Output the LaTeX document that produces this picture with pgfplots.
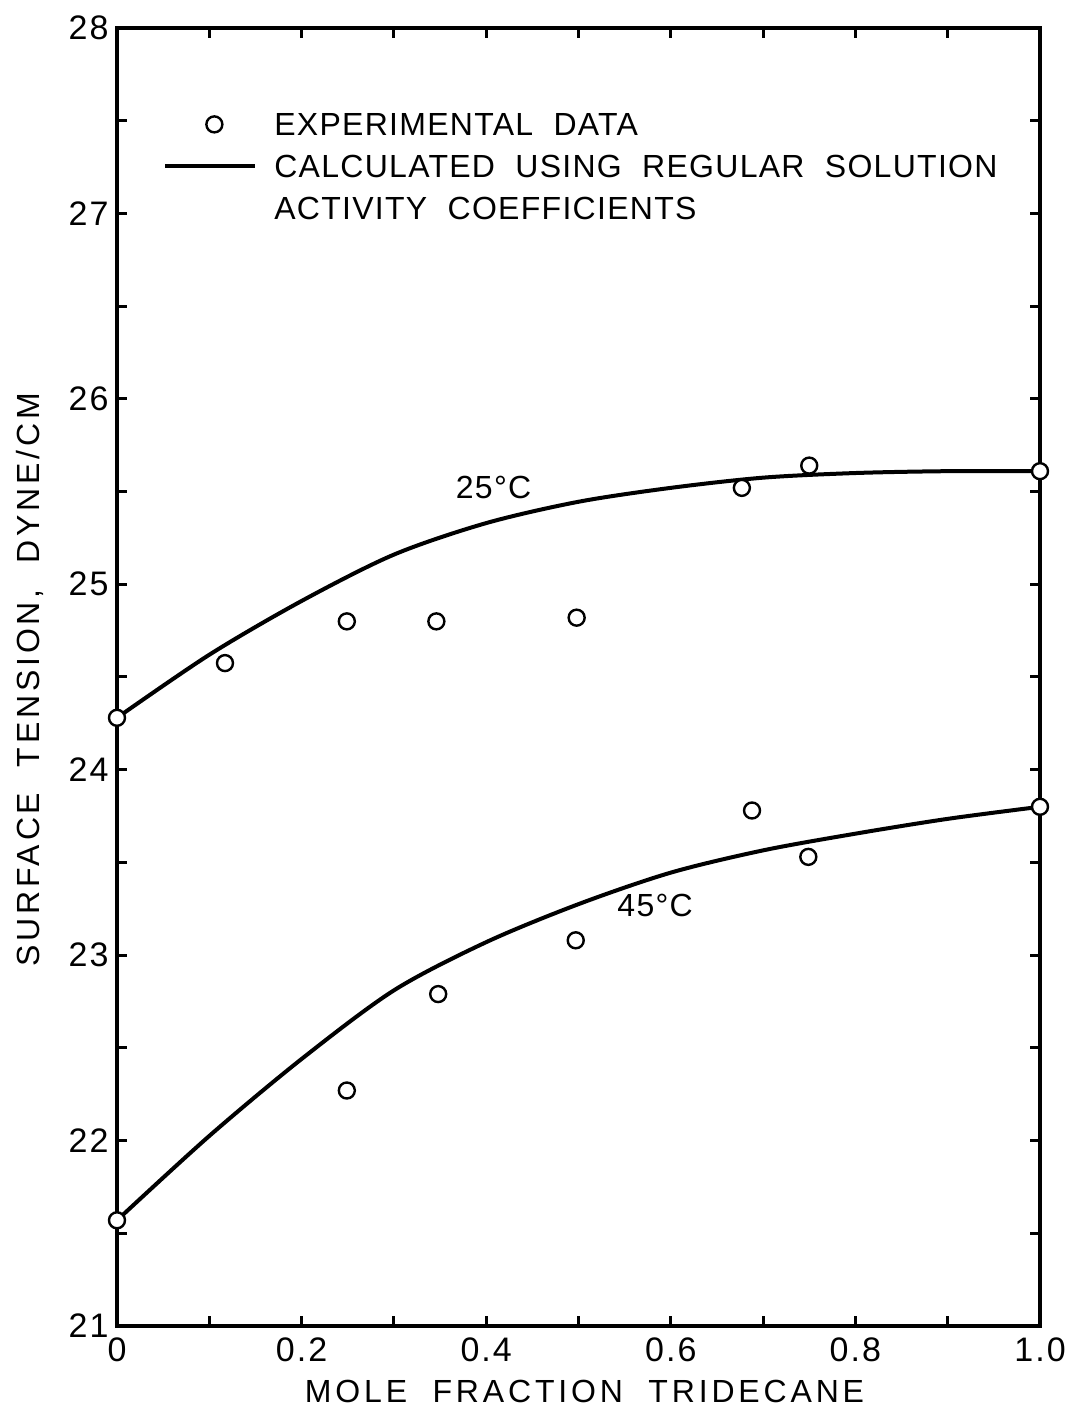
\documentclass[border=0pt]{standalone}
\usepackage{fontspec}
\setmainfont{Liberation Sans}[LetterSpace=4,WordSpace=2]
\newfontfamily\labelfont{Liberation Sans}[LetterSpace=12,WordSpace=2]
\newfontfamily\tickfont{Liberation Sans}[LetterSpace=6]
\usepackage{pgfplots}
\pgfplotsset{compat=1.18}

\newcommand{\txt}{\fontsize{16}{19}\selectfont}
\newcommand{\ticktxt}{\fontsize{17}{20}\selectfont}

\pgfplotsset{
    circle legend/.style={legend image code/.code={%
        \draw[mark repeat=2,mark phase=2,##1] plot coordinates {(0pt,0pt) (24.5pt,0pt) (45pt,0pt)};}},
    long line legend/.style={legend image code/.code={%
        \draw[##1] (0pt,0pt) -- (45pt,0pt);}},
    datamark/.style={only marks, mark=*, mark size=4pt,
        mark options={fill=white, draw=black, line width=1.2pt}},
}

\begin{document}
\begin{tikzpicture}
\useasboundingbox (-58.5pt,-42pt) rectangle (479.5pt,663pt);
\begin{axis}[
    at={(0pt,0pt)}, anchor=south west,
    scale only axis,
    width=461.5pt, height=649pt,
    xmin=0, xmax=1, ymin=21, ymax=28,
    xtick={0,0.2,0.4,0.6,0.8,1},
    xticklabels={0,0.2,0.4,0.6,0.8,1.0},
    minor xtick={0.1,0.3,0.5,0.7,0.9},
    ytick={21,22,23,24,25,26,27,28},
    yticklabels={21,22,23,24,25,26,27,28},
    minor ytick={21.5,22.5,23.5,24.5,25.5,26.5,27.5},
    tick align=inside,
    major tick length=5pt, minor tick length=5pt,
    every tick/.style={black, line width=1.5pt},
    every minor tick/.style={black, line width=1.5pt},
    axis line style={black, line width=2pt},
    xticklabel style={font=\tickfont\ticktxt, inner sep=0pt, yshift=-5.5pt},
    yticklabel style={font=\tickfont\ticktxt, inner sep=0pt, xshift=-4pt},
    xlabel={MOLE FRACTION TRIDECANE},
    ylabel={SURFACE TENSION, DYNE/CM},
    xlabel style={font=\labelfont\txt, at={(axis description cs:0.5065,-0.0505)}, anchor=center},
    ylabel style={font=\labelfont\txt, at={(axis description cs:-0.0943,0.4977)}, anchor=center},
    clip=false,
    legend cell align=left,
    legend style={at={(axis description cs:0.0498,0.9349)}, anchor=north west,
        draw=none, fill=none, inner sep=0pt,
        /tikz/row sep=9.5pt, /tikz/column sep=8.5pt,
        nodes={inner sep=0pt, text height=11.5pt, text depth=0pt, font=\txt}},
]
% legend
\addlegendimage{datamark, circle legend}
\addlegendentry{EXPERIMENTAL DATA}
\addlegendimage{black, line width=2pt, long line legend}
\addlegendentry{CALCULATED USING REGULAR SOLUTION}
\addlegendimage{empty legend}
\addlegendentry{ACTIVITY COEFFICIENTS}

% calculated curves
\addplot[black, line width=2pt, smooth, forget plot] coordinates {
    (0,24.28) (0.1,24.62) (0.2,24.91) (0.3,25.16) (0.4,25.33) (0.5,25.445)
    (0.6,25.52) (0.7,25.575) (0.8,25.60) (0.9,25.61) (1.0,25.61)};
\addplot[black, line width=2pt, smooth, forget plot] coordinates {
    (0,21.57) (0.1,22.025) (0.2,22.44) (0.3,22.81) (0.4,23.07) (0.5,23.275)
    (0.6,23.445) (0.7,23.565) (0.8,23.655) (0.9,23.735) (1.0,23.80)};

% experimental data
\addplot[datamark, forget plot] coordinates {
    (0,24.28) (0.117,24.575) (0.249,24.80) (0.346,24.80) (0.498,24.82)
    (0.677,25.52) (0.750,25.64) (1.0,25.61)};
\addplot[datamark, forget plot] coordinates {
    (0,21.57) (0.249,22.27) (0.348,22.79) (0.497,23.08)
    (0.688,23.78) (0.749,23.53) (1.0,23.80)};

\node[font=\txt] at (axis cs:0.408,25.52) {25°C};
\node[font=\txt] at (axis cs:0.583,23.27) {45°C};
\end{axis}
\end{tikzpicture}
\end{document}
